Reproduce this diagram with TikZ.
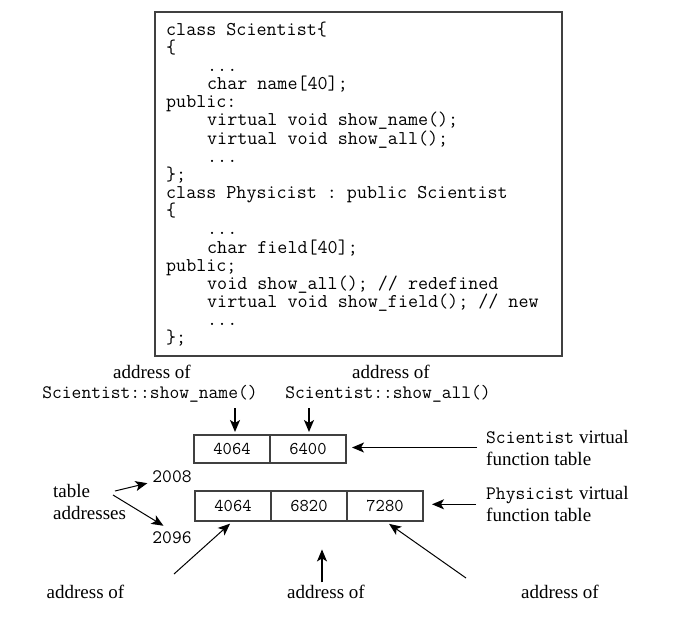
\documentclass[tikz,border=0pt]{standalone}
\usepackage{fontspec}
\setmainfont{Liberation Serif}
\usetikzlibrary{arrows.meta,positioning,calc}
\definecolor{framegray}{RGB}{64,64,64}

\newcommand\codesize{\ttfamily\fontsize{19.5}{22}\selectfont\frenchspacing}
\newcommand\monosize{\ttfamily\fontsize{19}{22}\selectfont\frenchspacing}
\newcommand\cellsize{\ttfamily\fontsize{18}{22}\selectfont}
\newcommand\serifsize{\rmfamily\fontsize{19}{22}\selectfont}

\tikzset{
    codeline/.style={anchor=base west,inner sep=0pt,font=\codesize},
    cell/.style={draw=framegray,line width=2pt,minimum width=76pt,minimum height=28pt,
        inner sep=0pt,outer sep=0pt,font=\cellsize},
    lbl/.style={inner sep=0pt,font=\serifsize},
    mono/.style={inner sep=0pt,font=\monosize},
    ptr/.style={-{Stealth[length=12pt,width=10pt,inset=3pt]},line width=1pt},
}

\begin{document}
\begin{tikzpicture}[x=1pt,y=-1pt]
            \useasboundingbox (0,0) rectangle (689,622);
            % class declarations
            \draw[framegray,line width=2pt] (155,12) rectangle (562,356);
            \node[codeline] (c0) at (166,35) {class Scientist\{};
            \node[codeline] (c1) at (166,53.2) {\{};
            \node[codeline] (c2) at (207,71.3) {...};
            \node[codeline] (c3) at (207,89.5) {char name[40];};
            \node[codeline] (c4) at (166,107.7) {public:};
            \node[codeline] (c5) at (207,125.9) {virtual void show\_name();};
            \node[codeline] (c6) at (207,144) {virtual void show\_all();};
            \node[codeline] (c7) at (207,162.2) {...};
            \node[codeline] (c8) at (166,180.4) {\};};
            \node[codeline] (c9) at (166,198.5) {class Physicist : public Scientist};
            \node[codeline] (c10) at (166,216.7) {\{};
            \node[codeline] (c11) at (207,234.9) {...};
            \node[codeline] (c12) at (207,253) {char field[40];};
            \node[codeline] (c13) at (166,271.2) {public;};
            \node[codeline] (c14) at (207,289.4) {void show\_all(); // redefined};
            \node[codeline] (c15) at (207,307.6) {virtual void show\_field(); // new};
            \node[codeline] (c16) at (207,325.7) {...};
            \node[codeline] (c17) at (166,343.9) {\};};
            % Scientist table
            \node[cell] (s1) at (232,449) {4064};
            \node[cell,right=0pt of s1] (s2) {6400};
            \node[lbl,anchor=base] (addrname) at (152,378) {address of};
            \node[mono,anchor=base] (sname) at (150,398) {Scientist::show\_name()};
            \node[lbl,anchor=base] (addrall) at (391,378) {address of};
            \node[mono,anchor=base] (sall) at (388,398) {Scientist::show\_all()};
            \draw[ptr,line width=1.6pt,shorten <=6pt,shorten >=3pt]
                ([xshift=3pt]s1.north |- sname.south) -- ([xshift=3pt]s1.north);
            \draw[ptr,line width=1.6pt,shorten <=6pt,shorten >=3pt]
                ([xshift=1pt]s2.north |- sall.south) -- ([xshift=1pt]s2.north);
            \node[lbl,anchor=west,align=left] (stab) at (486,447.5) {\texttt{Scientist} virtual\\function table};
            \draw[ptr,line width=1.3pt,shorten >=6pt] ([xshift=-9pt]stab.west) -- (stab.west -| s2.east);
            % Physicist table
            \node[cell,minimum height=30pt] (p1) at (233,506) {4064};
            \node[cell,minimum height=30pt,right=0pt of p1] (p2) {6820};
            \node[cell,minimum height=30pt,right=0pt of p2] (p3) {7280};
            \node[lbl,anchor=west,align=left] (ptab) at (486,504.3) {\texttt{Physicist} virtual\\function table};
            \draw[ptr,line width=1.3pt,shorten >=9pt] ([xshift=-10pt]ptab.west) -- (ptab.west -| p3.east);
            % table addresses
            \node[lbl,anchor=west,align=left] (taddr) at (53,502.3) {table\\addresses};
            \node[mono,anchor=base] (n2008) at (172,482) {2008};
            \node[mono,anchor=base] (n2096) at (172,543) {2096};
            \coordinate (tail1) at (115,491);
            \coordinate (tail2) at (113,495);
            \draw[ptr,shorten >=5pt] (tail1) -- (n2008.base west);
            \draw[ptr,shorten >=10pt] (tail2) -- (n2096.north);
            % addresses of the functions
            \node[lbl,anchor=base] (b1) at (85.5,598) {address of};
            \node[lbl,anchor=base] (b2) at (326,598) {address of};
            \node[lbl,anchor=base] (b3) at (560,598) {address of};
            \coordinate (b1tail) at (174,574);
            \coordinate (b3tail) at (466,578);
            \draw[ptr,shorten >=4pt] (b1tail) -- (p1.south);
            \draw[ptr,line width=1.3pt] ([xshift=-4pt,yshift=2pt]b2.north) -- ++(0,-33);
            \draw[ptr,shorten >=5pt] (b3tail) -- (p3.south);
\end{tikzpicture}
\end{document}
